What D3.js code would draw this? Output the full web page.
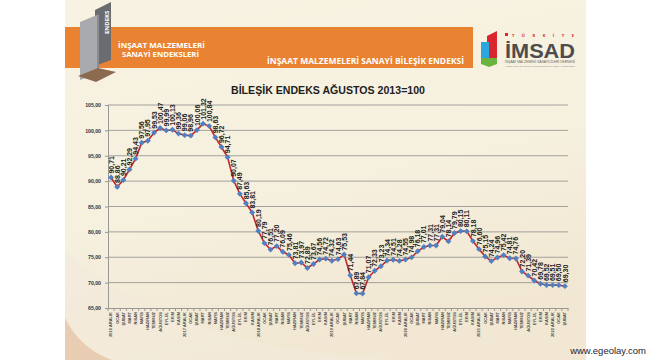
<!DOCTYPE html>
<html><head><meta charset="utf-8">
<script src="https://cdn.jsdelivr.net/npm/d3@7"></script>
<style>body{margin:0;background:#fff}svg{display:block}</style>
</head><body>
<svg id="c" width="650" height="360"></svg>
<script>
const months = ["2016 ARALIK","OCAK","ŞUBAT","MART","NİSAN","MAYIS","HAZİRAN","TEMMUZ","AĞUSTOS","EYLÜL","EKİM","KASIM",
"2017 ARALIK","OCAK","ŞUBAT","MART","NİSAN","MAYIS","HAZİRAN","TEMMUZ","AĞUSTOS","EYLÜL","EKİM","KASIM",
"2018 ARALIK","OCAK","ŞUBAT","MART","NİSAN","MAYIS","HAZİRAN","TEMMUZ","AĞUSTOS","EYLÜL","EKİM","KASIM",
"2019 ARALIK","OCAK","ŞUBAT","MART","NİSAN","MAYIS","HAZİRAN","TEMMUZ","AĞUSTOS","EYLÜL","EKİM","KASIM",
"2020 ARALIK","OCAK","ŞUBAT","MART","NİSAN","MAYIS","HAZİRAN","TEMMUZ","AĞUSTOS","EYLÜL","EKİM","KASIM",
"2021 ARALIK","OCAK","ŞUBAT","MART","NİSAN","MAYIS","HAZİRAN","TEMMUZ","AĞUSTOS","EYLÜL","EKİM","KASIM",
"2022 ARALIK","OCAK","ŞUBAT"];
const values = [90.71,88.86,90.21,92.29,94.43,97.56,97.95,99.53,100.47,99.99,100.13,99.36,
99.06,98.96,100.06,101.32,100.84,98.63,96.72,94.71,90.07,87.49,85.63,83.81,
80.19,77.79,76.51,77.20,76.09,75.46,73.81,73.97,72.89,73.67,74.56,74.72,
74.32,74.63,75.53,71.44,67.89,67.84,71.07,72.33,73.23,74.34,74.51,74.28,
74.55,74.98,76.18,77.01,77.31,77.31,79.04,78.14,79.79,80.15,80.11,78.18,
76.60,75.15,74.24,74.96,75.42,74.81,74.76,72.20,71.39,70.42,69.78,69.52,
69.51,69.50,69.30];
const yTicks = [65,70,75,80,85,90,95,100,105];
const chartTitle = "BİLEŞİK ENDEKS AĞUSTOS 2013=100";
const headerLeft = ["İNŞAAT MALZEMELERİ","SANAYİ ENDEKSLERİ"];
const headerMain = "İNŞAAT MALZEMELERİ SANAYİ BİLEŞİK ENDEKSİ";

const svg = d3.select("#c");
const defs = svg.append("defs");
const bg = defs.append("linearGradient").attr("id","bg").attr("x1",0).attr("y1",0).attr("x2",0.3).attr("y2",1);
bg.append("stop").attr("offset",0).attr("stop-color","#f8f2e2");
bg.append("stop").attr("offset",0.6).attr("stop-color","#f6f0df");
bg.append("stop").attr("offset",1).attr("stop-color","#f1e7d2");

// slide background
svg.append("rect").attr("x",65).attr("y",0).attr("width",521).attr("height",360).attr("fill","url(#bg)");
svg.append("path").attr("d","M65,250 C150,330 300,360 420,360 L65,360 Z").attr("fill","#f3eadb").attr("opacity",0.8);
svg.append("path").attr("d","M65,318 C75,338 90,352 112,360 L65,360 Z").attr("fill","#e9cdb2");

// header band
svg.append("rect").attr("x",65).attr("y",27).attr("width",408).attr("height",41).attr("fill","#ea8331");

// left logo
svg.append("polygon").attr("points","95,10 111,2 111,60 95,66").attr("fill","#6b6c6f");
svg.append("polygon").attr("points","80,22 97,15 97,74 80,80").attr("fill","#a9aaad");
svg.append("polygon").attr("points","97,15 99,14 99,73 97,74").attr("fill","#8c8d90");
svg.append("polygon").attr("points","78,76 98,68 116,72 96,82").attr("fill","#8b6a4f");
svg.append("text").attr("transform","translate(109,34) rotate(-90)").attr("fill","#fff")
  .attr("font-family","Open Sans").attr("font-weight","bold").attr("font-size",6).text("ENDEKS");

// header texts
svg.append("text").attr("x",118).attr("y",48).attr("fill","#fff").attr("font-family","Open Sans")
  .attr("font-weight","bold").attr("font-size",7).attr("textLength",87).attr("lengthAdjust","spacingAndGlyphs").text(headerLeft[0]);
svg.append("text").attr("x",122).attr("y",57).attr("fill","#fff").attr("font-family","Open Sans")
  .attr("font-weight","bold").attr("font-size",7).attr("textLength",77).attr("lengthAdjust","spacingAndGlyphs").text(headerLeft[1]);
svg.append("text").attr("x",267).attr("y",64).attr("fill","#fff").attr("font-family","Open Sans")
  .attr("font-weight","bold").attr("font-size",8.5).attr("textLength",197).attr("lengthAdjust","spacingAndGlyphs").text(headerMain);

// IMSAD logo
svg.append("polygon").attr("points","487,36 497,31 497,58 487,58").attr("fill","#d8262c");
svg.append("rect").attr("x",481).attr("y",42).attr("width",8).attr("height",16).attr("fill","#2aa7df");
svg.append("polygon").attr("points","481,58 497,58 497,64 489,67 481,64").attr("fill","#6bb33f");
svg.append("rect").attr("x",505).attr("y",33).attr("width",3).attr("height",3).attr("fill","#d8262c");
svg.append("text").attr("x",512).attr("y",36.5).attr("fill","#d8262c").attr("font-family","Open Sans")
  .attr("font-weight","bold").attr("font-size",4).attr("textLength",62).attr("lengthAdjust","spacing").text("TÜRKİYE");
svg.append("text").attr("x",505).attr("y",58).attr("fill","#4d4d4f").attr("font-family","Liberation Sans")
  .attr("font-weight","bold").attr("font-size",20).attr("textLength",70).attr("lengthAdjust","spacingAndGlyphs").text("İMSAD");
svg.append("text").attr("x",505).attr("y",63).attr("fill","#666").attr("font-family","Liberation Sans")
  .attr("font-size",2.6).attr("textLength",70).attr("lengthAdjust","spacingAndGlyphs").text("İNŞAAT MALZEMESİ SANAYİCİLERİ DERNEĞİ");
svg.append("text").attr("x",505).attr("y",66.5).attr("fill","#888").attr("font-family","Liberation Sans")
  .attr("font-size",2).attr("textLength",70).attr("lengthAdjust","spacingAndGlyphs").text("ASSOCIATION OF TURKISH CONSTRUCTION MATERIAL PRODUCERS");

// title
svg.append("text").attr("x",231).attr("y",94).attr("fill","#1e1e1e").attr("font-family","Liberation Sans")
  .attr("font-weight","bold").attr("font-size",11).attr("textLength",194).attr("lengthAdjust","spacingAndGlyphs").text(chartTitle);

// scales
const x = d3.scalePoint().domain(d3.range(values.length)).range([108,568]).padding(0.5);
const xb = d3.scaleBand().domain(d3.range(values.length)).range([108,568]);
const y = d3.scaleLinear().domain([65,105]).range([308,105]);

// grid
svg.append("g").selectAll("line").data(yTicks.slice(1)).join("line")
  .attr("x1",108).attr("x2",568).attr("y1",d=>y(d)).attr("y2",d=>y(d))
  .attr("stroke","#a3a19c").attr("stroke-width",1);

// y axis
const fmt = d => d3.format(".2f")(d).replace(".",",");
const ya = svg.append("g").attr("transform","translate(108,0)")
  .call(d3.axisLeft(y).tickValues(yTicks).tickFormat(fmt).tickSize(3).tickPadding(4));
ya.select(".domain").attr("stroke","#9a9893");
ya.selectAll(".tick line").attr("stroke","#9a9893");
ya.selectAll("text").attr("font-family","Liberation Sans").attr("font-weight","bold").attr("font-size",5.2).attr("fill","#333");

// x axis
const xa = svg.append("g").attr("transform","translate(0,308)")
  .call(d3.axisBottom(xb).tickFormat(i=>months[i]).tickSize(0).tickPadding(0));
xa.select(".domain").attr("stroke","#9a9893");
xa.selectAll(".tick line").remove();
svg.append("g").selectAll("line").data(d3.range(values.length+1)).join("line")
  .attr("x1",i=>108+i*xb.step()).attr("x2",i=>108+i*xb.step()).attr("y1",308).attr("y2",311)
  .attr("stroke","#9a9893");
xa.selectAll("text").attr("font-family","Liberation Sans").attr("font-weight","bold").attr("font-size",4)
  .attr("fill","#444").attr("text-anchor","end").attr("dy",0)
  .attr("transform","translate(1.4,4) rotate(-90)").attr("x",0).attr("y",0);

// line
svg.append("path").datum(values).attr("fill","none").attr("stroke","#c1272d").attr("stroke-width",1.6)
  .attr("d",d3.line().x((d,i)=>x(i)).y(d=>y(d)));
// markers
svg.append("g").selectAll("path").data(values).join("path")
  .attr("transform",(d,i)=>`translate(${x(i)},${y(d)})`)
  .attr("d",d3.symbol(d3.symbolDiamond2,22)).attr("fill","#4f80c1");
// data labels
svg.append("g").selectAll("text").data(values).join("text")
  .attr("transform",(d,i)=>`translate(${x(i)+2.6},${y(d)-4}) rotate(-90)`)
  .attr("font-family","Liberation Sans").attr("font-weight","bold").attr("font-size",7).attr("fill","#222")
  .text(d=>fmt(d));

// watermark
svg.append("text").attr("x",646).attr("y",354).attr("text-anchor","end").attr("fill","#1c2333").attr("font-family","Liberation Sans")
  .attr("font-size",9.5).text("www.egeolay.com");
</script>
</body></html>
